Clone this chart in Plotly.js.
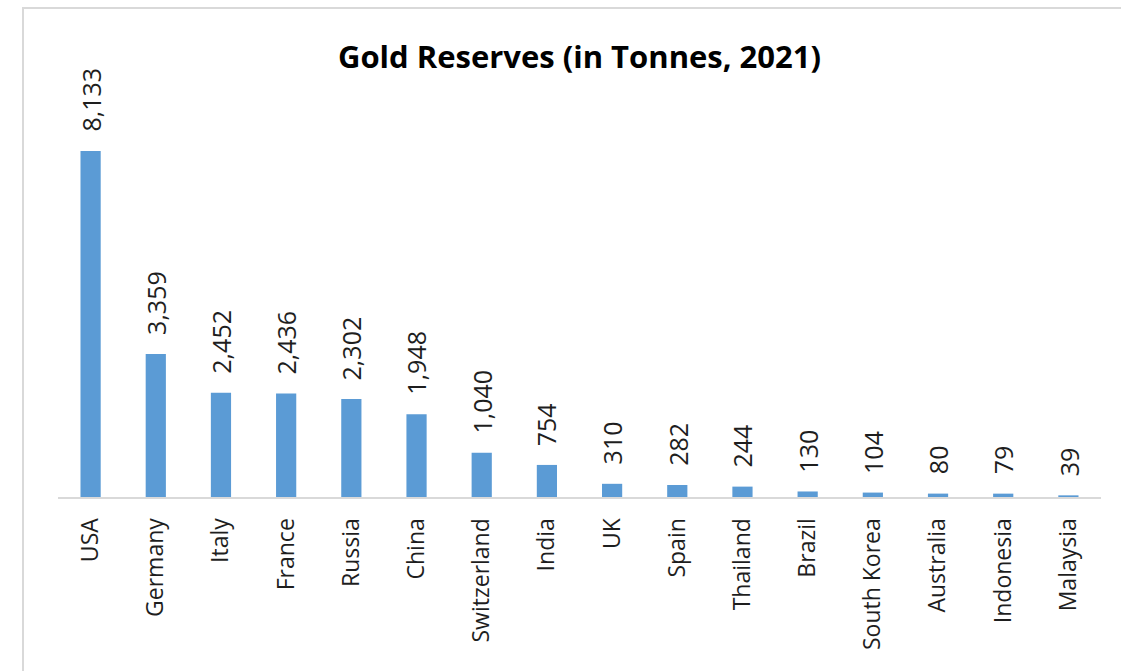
<!DOCTYPE html>
<html>
<head>
<meta charset="utf-8">
<script src="https://cdn.plot.ly/plotly-3.0.1.min.js"></script>
<style>
  html, body { margin: 0; padding: 0; background: #ffffff; }
  #wrap { position: relative; width: 1121px; height: 671px; overflow: hidden; }
  #chart { position: absolute; left: 0; top: 0; width: 1121px; height: 671px; }
  #frame { position: absolute; left: 22px; top: 7px; width: 1200px; height: 800px;
           border-left: 2px solid #d9d9d9; border-top: 2px solid #d9d9d9; pointer-events: none; }
</style>
</head>
<body>
<div id="wrap">
  <div id="chart"></div>
  <div id="frame"></div>
</div>
<script>
const countries = ["USA", "Germany", "Italy", "France", "Russia", "China", "Switzerland", "India",
                   "UK", "Spain", "Thailand", "Brazil", "South Korea", "Australia", "Indonesia", "Malaysia"];
const reserves = [8133, 3359, 2452, 2436, 2302, 1948, 1040, 754, 310, 282, 244, 130, 104, 80, 79, 39];
const chartTitle = "Gold Reserves (in Tonnes, 2021)";

const fmt = v => v.toLocaleString("en-US");

const trace = {
  type: "bar",
  x: countries,
  y: reserves,
  marker: { color: "#5B9BD5" },
  hoverinfo: "x+y"
};

const annotations = countries.map((c, i) => ({
  x: c,
  y: reserves[i],
  xref: "x",
  yref: "y",
  text: fmt(reserves[i]),
  showarrow: false,
  textangle: -90,
  yanchor: "bottom",
  xanchor: "center",
  yshift: 17,
  font: { family: "Open Sans, sans-serif", size: 25, color: "#1e1e1e" }
}));

const layout = {
  width: 1121,
  height: 671,
  margin: { l: 58, r: 20, t: 60, b: 174 },
  paper_bgcolor: "#ffffff",
  plot_bgcolor: "#ffffff",
  bargap: 0.69,
  showlegend: false,
  title: {
    text: "<b>" + chartTitle + "</b>",
    x: 0.5,
    xref: "paper",
    xanchor: "center",
    y: 1 - 57 / 671,
    yref: "container",
    yanchor: "middle",
    font: { family: "Open Sans, sans-serif", size: 31, color: "#000000" }
  },
  xaxis: {
    type: "category",
    showline: true,
    linecolor: "#d9d9d9",
    linewidth: 2,
    ticks: "",
    tickangle: -90,
    ticklabelstandoff: 10,
    showgrid: false,
    zeroline: false,
    tickfont: { family: "Open Sans, sans-serif", size: 23, color: "#1e1e1e" }
  },
  yaxis: {
    range: [0, 10273],
    visible: false,
    showgrid: false,
    zeroline: false,
    fixedrange: true
  },
  annotations: annotations
};

Plotly.newPlot("chart", [trace], layout, { displayModeBar: false, staticPlot: true });
</script>
</body>
</html>
